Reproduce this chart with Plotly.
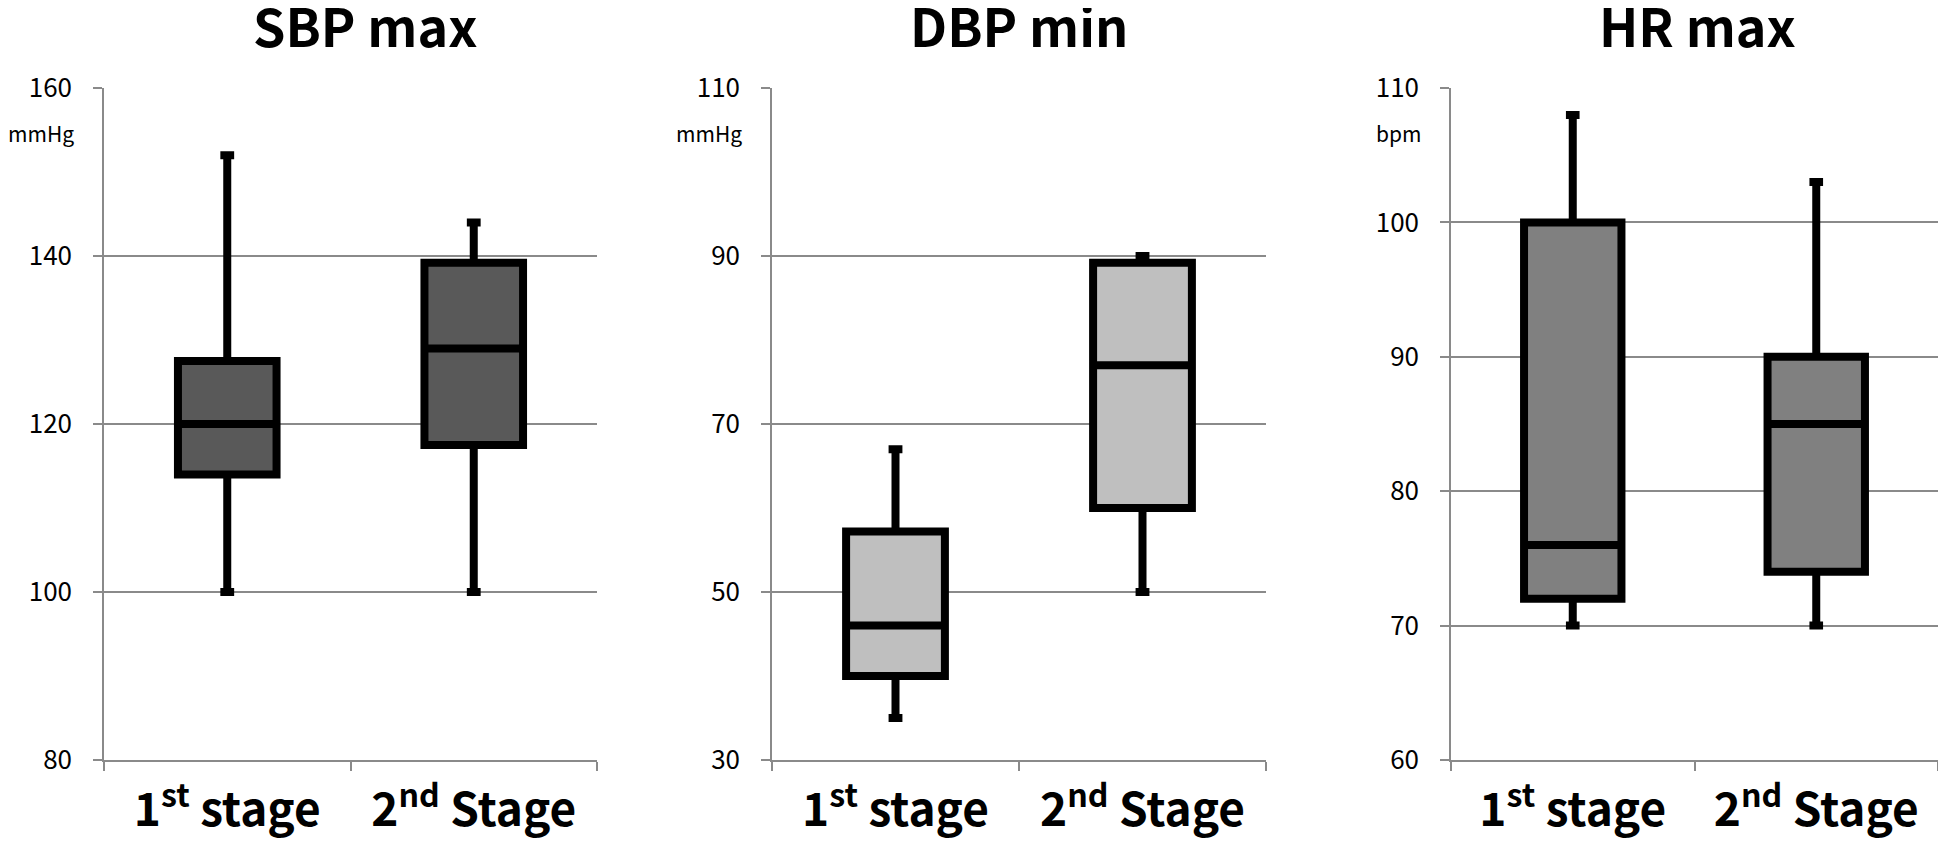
import plotly.graph_objects as go

# ---- data ----
categories = ["1st stage", "2nd Stage"]
tick_labels = ["1<sup>st</sup> stage", "2<sup>nd</sup> Stage"]
titles = ["SBP max", "DBP min", "HR max"]
units = ["mmHg", "mmHg", "bpm"]

sbp_lower = [100, 100]
sbp_q1 = [114, 117.5]
sbp_median = [120, 129]
sbp_q3 = [127.5, 139.2]
sbp_upper = [152, 144]

dbp_lower = [35, 50]
dbp_q1 = [40, 60]
dbp_median = [46, 77]
dbp_q3 = [57.2, 89.2]
dbp_upper = [67, 90]

hr_lower = [70, 70]
hr_q1 = [72, 74]
hr_median = [76, 85]
hr_q3 = [100, 90]
hr_upper = [108, 103]

y_ranges = [[80, 160], [30, 110], [60, 110]]
y_dticks = [20, 20, 10]
fills = ["#595959", "#bfbfbf", "#808080"]

# ---- layout helpers (pixel positions of the page) ----
W, H, OFF = 1930, 834, 8


def xp(px):
    return min(1.0, max(0.0, (px - OFF) / W))


def yp(py):
    return min(1.0, max(0.0, 1 - (py - OFF) / H))


panels_px = [(104, 597), (772, 1266), (1451, 1938)]
title_x_px = [365, 1019, 1697]
plot_top, plot_bottom = 88, 760

FONT = "Noto Sans CJK JP, sans-serif"
GRID = "#8a8a8a"

fig = go.Figure()
stats = [
    (sbp_lower, sbp_q1, sbp_median, sbp_q3, sbp_upper),
    (dbp_lower, dbp_q1, dbp_median, dbp_q3, dbp_upper),
    (hr_lower, hr_q1, hr_median, hr_q3, hr_upper),
]
for i, (lo, q1, med, q3, up) in enumerate(stats):
    sfx = "" if i == 0 else str(i + 1)
    fig.add_trace(go.Box(
        x=categories, lowerfence=lo, q1=q1, median=med, q3=q3, upperfence=up,
        xaxis="x" + sfx, yaxis="y" + sfx,
        fillcolor=fills[i], line=dict(color="black", width=8),
        width=0.4, whiskerwidth=0.14, boxpoints=False, showlegend=False,
        hoverinfo="skip",
    ))

layout = dict(
    width=W, height=H, margin=dict(l=0, r=0, t=0, b=0),
    paper_bgcolor="white", plot_bgcolor="white",
    font=dict(family=FONT, color="black"),
    annotations=[],
)
for i in range(3):
    sfx = "" if i == 0 else str(i + 1)
    x0, x1 = panels_px[i]
    layout["xaxis" + sfx] = dict(
        domain=[xp(x0), xp(x1)], anchor="y" + sfx, automargin=False,
        type="category", categoryorder="array", categoryarray=categories,
        tickmode="array", tickvals=categories, ticktext=tick_labels,
        tickson="boundaries", ticks="outside", ticklen=9, tickwidth=1.5,
        tickcolor=GRID, showline=True, linecolor=GRID, linewidth=1.5,
        showgrid=False, ticklabelstandoff=9,
        tickfont=dict(family=FONT, size=46, color="black", weight="bold"),
        range=[-0.5, 1.5], fixedrange=True,
    )
    layout["yaxis" + sfx] = dict(
        domain=[yp(plot_bottom), yp(plot_top)], anchor="x" + sfx, automargin=False,
        range=y_ranges[i], dtick=y_dticks[i], tick0=y_ranges[i][0],
        showgrid=True, gridcolor=GRID, gridwidth=1.5,
        showline=True, linecolor=GRID, linewidth=1.5,
        ticks="outside", ticklen=9, tickwidth=1.5, tickcolor=GRID,
        ticklabelstandoff=16, zeroline=False,
        tickfont=dict(family=FONT, size=26, color="black"),
        fixedrange=True,
    )
    layout["annotations"].append(dict(
        text=titles[i], xref="paper", yref="paper",
        x=xp(title_x_px[i]), y=yp(25), xanchor="center", yanchor="middle",
        showarrow=False, font=dict(family=FONT, size=52, color="black", weight="bold"),
    ))
    layout["annotations"].append(dict(
        text=units[i], xref="paper", yref="paper",
        x=xp(x0 - 28), y=yp(133), xanchor="right", yanchor="middle",
        showarrow=False, font=dict(family=FONT, size=21, color="black"),
    ))

fig.update_layout(**layout)
fig.write_html("out.html")
